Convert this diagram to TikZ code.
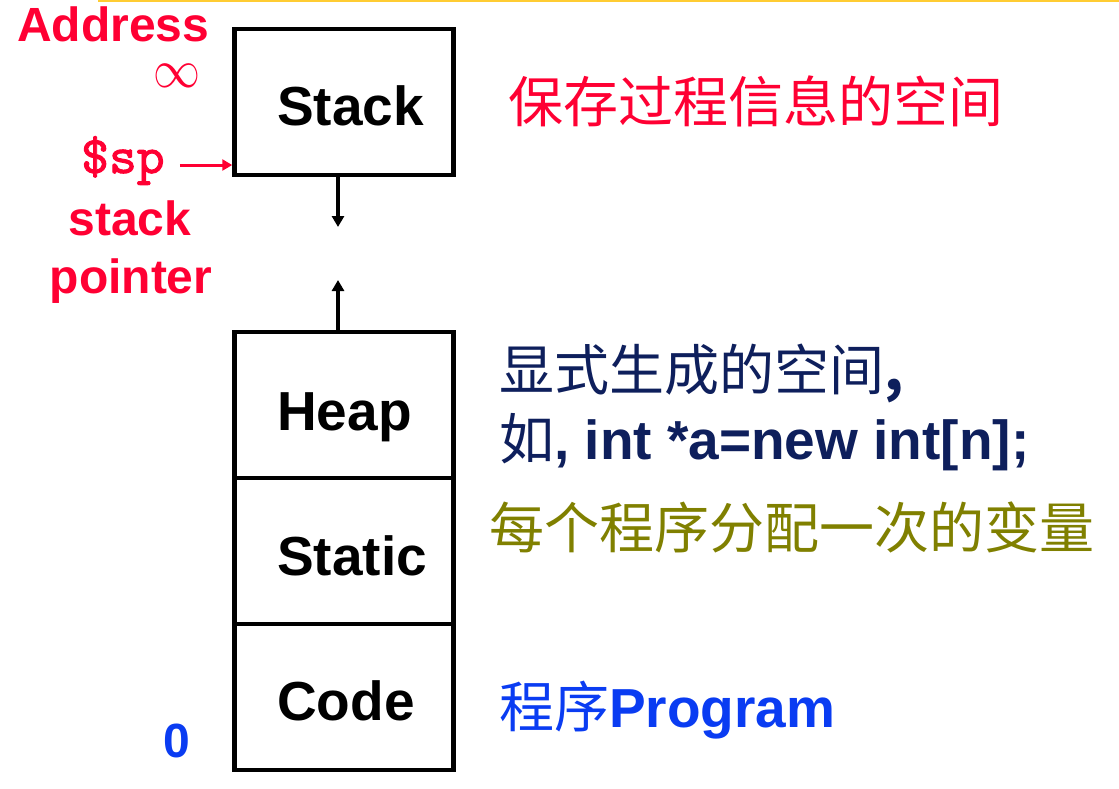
\documentclass[tikz,border=0pt]{standalone}
\usepackage{fontspec}
\setmainfont{Liberation Sans}
\newfontfamily\cjk{Noto Sans CJK SC}
\newfontfamily\spfont{lmmono10-regular.otf}[FakeBold=1.8]
\usetikzlibrary{arrows.meta}
\definecolor{addrred}{HTML}{FF0033}
\definecolor{heapnavy}{HTML}{0E1F5C}
\definecolor{staticolive}{HTML}{808000}
\definecolor{codeblue}{HTML}{0A3CF2}
\definecolor{rulegold}{HTML}{FFCC33}
\begin{document}
\begin{tikzpicture}[x=1pt, y=-1pt,
  box/.style={draw, line width=4.5pt, minimum width=219pt, minimum height=146pt, inner sep=0pt},
  boxtext/.style={anchor=base west, inner sep=0pt, font=\fontsize{55}{60}\selectfont\bfseries},
  lefttext/.style={inner sep=0pt, text=addrred, font=\fontsize{48}{52}\selectfont\bfseries},
  righttext/.style={anchor=west, inner sep=0pt, font=\fontsize{55}{60}\selectfont},
  growarrow/.style={line width=3.5pt, -{Triangle[length=11pt,width=12pt]}}]
\useasboundingbox (0,0) rectangle (1119,788);
\draw[rulegold, line width=2.5pt] (98,1) -- (1119,1);
\node[box] (stack) at (344,102) {};
\node[box] (heap) at (344,405) {};
\node[box] (static) at (344,551) {};
\node[box] (code) at (344,697) {};
\node[boxtext] (stacklbl) at (277,125) {Stack};
\node[boxtext] (heaplbl) at (277,430) {Heap};
\node[boxtext] (staticlbl) at (277,575) {Static};
\node[boxtext] (codelbl) at (277,720) {Code};
\coordinate (downtip) at (338,227);
\coordinate (uptip) at (338,280);
\draw[growarrow] (downtip |- stack.south) -- (downtip);
\draw[growarrow] (uptip |- heap.north) -- (uptip);
\node[lefttext, anchor=base west] (addr) at (17,41) {Address};
\node[lefttext, font=\fontsize{10}{12}\selectfont] (inf) at (177,76) {\scalebox{4.7}[5.4]{$\infty$}};
\node[lefttext, anchor=base west, font=\fontsize{53}{56}\selectfont\spfont] (sp) at (81,173) {\$sp};
\node[lefttext, anchor=base] (stk) at (130,235) {stack};
\node[lefttext, anchor=base] (ptr) at (131,293) {pointer};
\coordinate (sptip) at (stack.west |- 0,165);
\draw[addrred, line width=3pt, -{Triangle[length=10pt,width=11pt]}] (sp.east |- sptip) ++(15,0) -- (sptip);
\node[righttext, text=addrred] (stackinfo) at (508,101) {\cjk 保存过程信息的空间};
\node[righttext, text=heapnavy] (heapinfo1) at (499,373) {\cjk 显式生成的空间\textbf{,}};
\node[righttext, anchor=base west, text=heapnavy] (heapinfo2) at (499,459) {{\cjk 如}\textbf{, int *a=new int[n];}};
\node[righttext, text=staticolive] (staticinfo) at (489,527) {\cjk 每个程序分配一次的变量};
\node[righttext, anchor=base west, text=codeblue] (codeinfo) at (499,727) {{\cjk 程序}\textbf{Program}};
\node[lefttext, anchor=base, text=codeblue] (zero) at (177,757) {0};
\end{tikzpicture}
\end{document}
